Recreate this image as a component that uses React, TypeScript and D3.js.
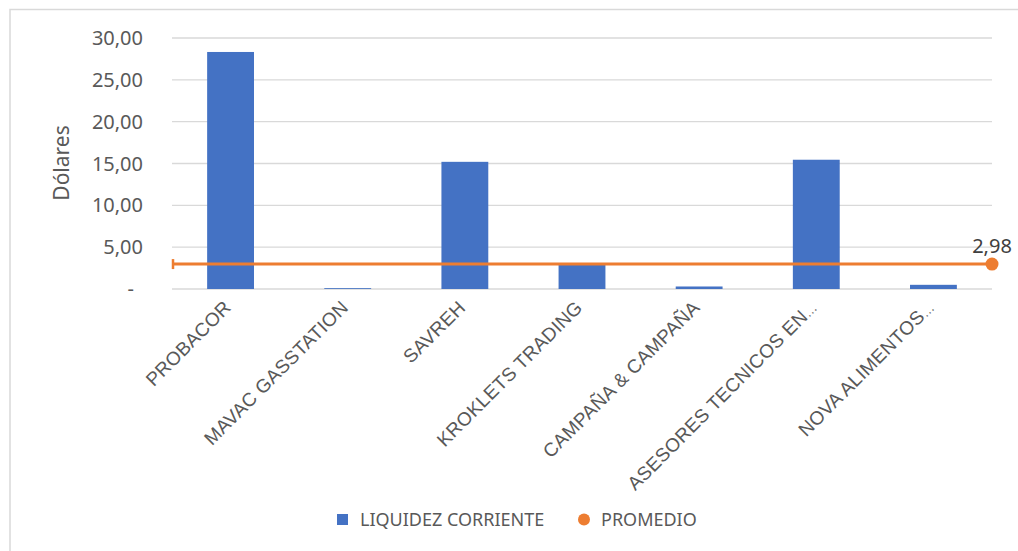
import React from "react";
import * as d3 from "d3";

const categories = [
  "PROBACOR",
  "MAVAC GASSTATION",
  "SAVREH",
  "KROKLETS TRADING",
  "CAMPAÑA & CAMPAÑA",
  "ASESORES TECNICOS EN…",
  "NOVA ALIMENTOS…",
];
const liquidez = [28.33, 0.1, 15.2, 2.9, 0.3, 15.45, 0.5];
const promedio = 2.98;
const yTicks = [0, 5, 10, 15, 20, 25, 30];
const yTickLabels = ["-", "5,00", "10,00", "15,00", "20,00", "25,00", "30,00"];
const seriesNames = ["LIQUIDEZ CORRIENTE", "PROMEDIO"];
const promedioLabel = "2,98";
const yTitle = "Dólares";

const BLUE = "#4472C4";
const ORANGE = "#ED7D31";
const TEXT = "#595959";
const GRID = "#D9D9D9";

export default function App() {
  const W = 1018, H = 551;
  const left = 172, right = 992, top = 38, bottom = 289;
  const x = d3.scaleBand<string>().domain(categories).range([left, right]).paddingInner(0.6).paddingOuter(0.3);
  const y = d3.scaleLinear().domain([0, 30]).range([bottom, top]);
  const font = "'Noto Sans', 'Open Sans', sans-serif";
  const labelFont = "'Liberation Sans', Arial, sans-serif";
  const ly = y(promedio);
  return (
    <svg width={W} height={H} style={{ position: "absolute", left: 0, top: 0, background: "#fff" }}>
      <rect x={10} y={9.5} width={W + 20} height={H + 20} fill="#fff" stroke={GRID} strokeWidth={1.5} />
      {yTicks.map((t, i) => (
        <g key={t}>
          <line x1={left} x2={right} y1={y(t)} y2={y(t)} stroke={GRID} strokeWidth={1.3} />
          <text
            x={t === 0 ? 134 : 143}
            y={y(t)}
            dy={7}
            textAnchor="end"
            fontFamily={font}
            fontSize={20}
            fill={TEXT}
          >
            {yTickLabels[i]}
          </text>
        </g>
      ))}
      <text
        transform={`translate(69,163) rotate(-90)`}
        textAnchor="middle"
        fontFamily={font}
        fontSize={21}
        fill={TEXT}
      >
        {yTitle}
      </text>
      {categories.map((c, i) => (
        <rect
          key={c}
          x={x(c)}
          y={y(liquidez[i])}
          width={x.bandwidth()}
          height={bottom - y(liquidez[i])}
          fill={BLUE}
        />
      ))}
      <line x1={left} x2={right} y1={ly} y2={ly} stroke={ORANGE} strokeWidth={3} />
      <line x1={left + 1} x2={left + 1} y1={ly - 5} y2={ly + 5} stroke={ORANGE} strokeWidth={2.5} />
      <circle cx={right} cy={ly} r={6.5} fill={ORANGE} />
      <text x={right} y={ly - 11} textAnchor="middle" fontFamily={font} fontSize={20} fill="#404040">
        {promedioLabel}
      </text>
      {categories.map((c) => {
        const cx = (x(c) as number) + x.bandwidth() / 2;
        const trunc = c.endsWith("…");
        const main = trunc ? c.slice(0, -1) : c;
        return (
          <text
            key={c}
            transform={`translate(${cx - 3},${304}) rotate(-45)`}
            textAnchor="end"
            dy="0.35em"
            fontFamily={labelFont}
            fontSize={19}
            letterSpacing={0.3}
            fill={TEXT}
          >
            {main}
            {trunc ? (
              <tspan fontSize={13} letterSpacing={0}>
                …
              </tspan>
            ) : null}
          </text>
        );
      })}
      <rect x={337} y={514} width={11} height={11} fill={BLUE} />
      <text x={360} y={526} fontFamily={font} fontSize={18} fill={TEXT}>
        {seriesNames[0]}
      </text>
      <circle cx={584} cy={519.5} r={6} fill={ORANGE} />
      <text x={601} y={526} fontFamily={font} fontSize={18} fill={TEXT}>
        {seriesNames[1]}
      </text>
    </svg>
  );
}
